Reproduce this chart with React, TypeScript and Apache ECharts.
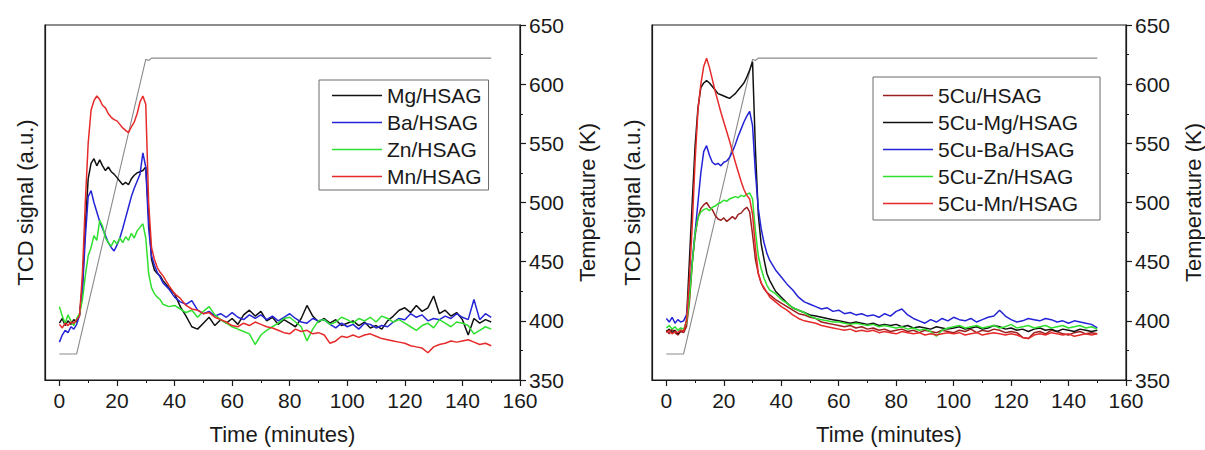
import React, { useEffect, useRef } from "react";
import * as echarts from "echarts";

// Time axis (minutes) shared by every TPR trace
const TIME = [
  0, 1, 2, 3, 4, 5, 6, 7, 8, 9, 10, 11, 12, 13, 14, 15, 16, 17, 18, 19, 20, 21, 22, 23, 24, 25, 26, 27, 28, 29, 30, 31, 32, 33, 34, 35, 36,
  38, 40, 42, 44, 46, 48, 50, 52, 54, 56, 58, 60, 62, 64, 66, 68, 70, 72, 74, 76, 78, 80, 82, 84, 86, 88, 90, 92, 94, 96, 98,
  100, 102, 104, 106, 108, 110, 112, 114, 116, 118, 120, 122, 124, 126, 128, 130, 132, 134, 136, 138, 140, 142, 144, 146, 148, 150,
];

// Temperature ramp (K)
const TEMP_T = [0, 6, 30, 31, 32, 150];
const TEMP_K = [372, 372, 621, 620, 622, 622];

// Tick labels of the time axis
const X_MAJOR = [0, 20, 40, 60, 80, 100, 120, 140, 160];
const X_MINOR = [10, 30, 50, 70, 90, 110, 130, 150];

// ---- Left panel: M/HSAG (TCD signal, a.u.) ----
const MG = [
  398, 402, 396, 400, 397, 401, 399, 405, 430, 480,
  520, 533, 537, 531, 536, 531, 527, 530, 526, 524,
  521, 518, 515, 517, 515, 520, 523, 525, 526, 527,
  530, 490, 452, 443, 440, 438, 434,
  428, 423, 412, 404, 395, 393, 398, 403, 396, 401,
  398, 402, 397, 405, 409, 404, 408, 400, 403, 397,
  401, 398, 395, 402, 413, 404, 399, 402, 398, 401,
  396, 398, 400, 396, 399, 394, 396, 393, 400, 404,
  409, 411, 407, 413, 408, 411, 421, 406, 409, 404,
  407, 401, 388, 402, 398, 401, 399,
];
const BA = [
  382, 388, 392, 390, 395, 393, 397, 405, 425, 470,
  505, 510, 500, 492, 484, 478, 472, 466, 462, 459,
  464, 470, 478, 487, 496, 505, 512, 518, 524, 542,
  530, 478, 455, 447, 441, 437, 432,
  427, 420, 416, 414, 417, 409, 406, 408, 404, 406,
  403, 407, 403, 401, 405, 402, 405, 401, 404, 400,
  403, 406, 402, 399, 398, 402, 400, 401, 397, 394,
  398, 395, 397, 393, 398, 397, 394, 396, 395, 399,
  402, 401, 406, 403, 405, 400, 402, 401, 404, 402,
  406, 403, 401, 418, 401, 406, 403,
];
const ZN = [
  412, 404, 398, 405, 400, 396, 402, 406, 418, 438,
  455, 462, 472, 468, 485, 480, 470, 466, 463, 468,
  465, 470, 466, 471, 468, 474, 470, 476, 479, 482,
  470, 440, 428, 423, 420, 418, 414,
  412, 413, 410, 407, 409, 403, 408, 412, 405, 401,
  398, 395, 393, 391, 389, 380, 388, 392, 395, 398,
  402, 403, 399, 395, 383, 393, 400, 401, 397, 399,
  403, 401, 398, 402, 400, 403, 399, 404, 402, 399,
  401, 398, 395, 392, 396, 398, 394, 401, 398, 395,
  399, 398, 396, 389, 392, 395, 393,
];
const MN = [
  397, 394, 398, 396, 399, 398, 401, 404, 440, 500,
  550, 578, 586, 590, 587, 582, 580, 575, 572, 570,
  569, 566, 563, 561, 559, 564, 568, 575, 585, 590,
  583, 500, 462, 452, 445, 441, 438,
  430, 423, 419, 413, 410, 409, 406, 407, 403, 401,
  399, 396, 395, 398, 396, 399, 397, 395, 394, 392,
  390, 389, 393, 391, 392, 389, 390, 388, 381, 383,
  387, 386, 388, 386, 388, 389, 387, 385, 384, 383,
  382, 381, 379, 378, 377, 373, 378, 380, 381, 383,
  382, 383, 384, 382, 380, 381, 379,
];

// ---- Right panel: 5Cu-M/HSAG ----
const CU = [
  392, 389, 393, 390, 388, 391, 390, 395, 415, 448,
  472, 487, 495, 498, 500, 496, 494, 489, 486, 485,
  487, 484, 486, 488, 486, 490, 491, 494, 496, 492,
  473, 452, 440, 432, 427, 424, 422,
  418, 415, 412, 409, 406, 405, 403, 402, 399, 398,
  397, 396, 395, 396, 394, 395, 393, 394, 392, 393,
  391, 392, 393, 391, 392, 390, 392, 391, 390, 392,
  391, 390, 392, 391, 393, 390, 392, 391, 393, 392,
  390, 391, 390, 386, 385, 390, 391, 389, 392, 391,
  389, 388, 390, 391, 389, 390, 389,
];
const CU_MG = [
  391, 393, 390, 392, 389, 392, 391, 400, 450, 500,
  548, 580, 597, 601, 603, 601, 598, 595, 592, 591,
  590, 589, 588, 590, 592, 595, 598, 601, 606, 612,
  619, 545, 490, 465, 452, 440, 434,
  425, 420, 415, 411, 409, 407, 405, 404, 403, 402,
  401, 400, 399, 398, 399, 398, 397, 398, 396, 397,
  396, 397, 395, 396, 394, 395, 394, 393, 395, 394,
  393, 394, 395, 393, 394, 395, 393, 394, 396, 395,
  393, 394, 392, 393, 391, 393, 394, 392, 393, 391,
  393, 392, 391, 393, 392, 391, 392,
];
const CU_BA = [
  402, 399, 403, 398, 401, 399, 400, 405, 425, 450,
  475, 500, 525, 543, 548, 540, 534, 532, 533, 531,
  534, 535, 538, 543, 549, 556, 562, 568, 573, 577,
  565, 525, 495, 478, 466, 457, 451,
  443, 437, 431, 426, 420, 416, 414, 412, 410, 411,
  408, 409, 406, 407, 405, 406, 404, 405, 403, 406,
  404, 408, 410, 405, 402, 400, 398, 401, 399, 402,
  400, 403, 401, 400, 402, 399, 401, 403, 404, 409,
  404, 401, 399, 400, 402, 401, 400, 402, 401, 399,
  400, 398, 400, 399, 398, 397, 394,
];
const CU_ZN = [
  394, 396, 393, 395, 392, 394, 393, 398, 418, 448,
  474, 487, 492, 494, 495, 493, 496, 497, 499, 500,
  502, 501, 503, 504, 505, 504, 506, 505, 507, 508,
  503, 476, 455, 444, 436, 430, 426,
  423, 418, 415, 411, 409, 407, 404, 402, 401, 400,
  399, 399, 398, 397, 398, 397, 396, 397, 395, 396,
  395, 394, 395, 393, 394, 392, 393, 391, 387, 392,
  394, 395, 396, 394, 395, 396, 394, 395, 396, 394,
  395, 397, 394, 395, 396, 394, 395, 396, 394, 395,
  396, 394, 395, 396, 394, 395, 393,
];
const CU_MN = [
  390, 392, 389, 391, 390, 392, 391, 400, 435, 480,
  535, 578, 600, 615, 622, 614, 604, 594, 585, 576,
  568, 560, 552, 543, 534, 526, 518, 511, 506, 503,
  490, 462, 440, 432, 428, 424, 420,
  416, 412, 409, 405, 402, 400, 399, 398, 396, 395,
  394, 393, 392, 393, 391, 392, 391, 392, 390, 391,
  390, 389, 391, 390, 389, 390, 388, 389, 388, 389,
  390, 389, 390, 388, 389, 390, 388, 389, 390, 389,
  388, 389, 388, 386, 385, 388, 389, 388, 390, 389,
  388, 389, 387, 388, 389, 388, 389,
];

const FONT = "'Liberation Sans', Arial, Helvetica, sans-serif";
const INK = "#1a1a1a";
const TICK_FS = 21;
const NAME_FS = 22;

const pairs = (xs: number[], ys: number[]) => xs.map((x, i) => [x, ys[i]]);

function xAxes(gridIndex: number) {
  return [
    {
      type: "value",
      gridIndex,
      min: -5,
      max: 160,
      position: "bottom",
      name: "Time (minutes)",
      nameLocation: "middle",
      nameGap: 43,
      nameTextStyle: { fontSize: NAME_FS, color: INK, fontFamily: FONT },
      axisLine: { show: true, onZero: false, lineStyle: { color: INK, width: 1.2 } },
      axisTick: { show: true, length: 6, customValues: X_MAJOR, lineStyle: { color: INK, width: 1.2 } },
      axisLabel: { customValues: X_MAJOR, fontSize: TICK_FS, color: INK, margin: 10, fontFamily: FONT },
      splitLine: { show: false },
    },
    {
      type: "value",
      gridIndex,
      min: -5,
      max: 160,
      position: "bottom",
      axisLine: { show: false, onZero: false },
      axisTick: { show: true, length: 3, customValues: X_MINOR, lineStyle: { color: INK, width: 1 } },
      axisLabel: { show: false },
      splitLine: { show: false },
    },
  ];
}

function yAxes(gridIndex: number, tempGap: number) {
  return [
    {
      type: "value",
      gridIndex,
      min: 350,
      max: 650,
      position: "left",
      name: "TCD signal (a.u.)",
      nameLocation: "middle",
      nameGap: 9,
      nameRotate: 90,
      nameTextStyle: { fontSize: NAME_FS, color: INK, fontFamily: FONT },
      axisLine: { show: true, onZero: false, lineStyle: { color: INK, width: 1.2 } },
      axisTick: { show: false },
      axisLabel: { show: false },
      splitLine: { show: false },
    },
    {
      type: "value",
      gridIndex,
      min: 350,
      max: 650,
      interval: 50,
      position: "right",
      name: "Temperature (K)",
      nameLocation: "middle",
      nameGap: tempGap,
      nameRotate: 90,
      nameTextStyle: { fontSize: NAME_FS, color: INK, fontFamily: FONT },
      axisLine: { show: true, onZero: false, lineStyle: { color: INK, width: 1.2 } },
      axisTick: { show: true, length: 6, lineStyle: { color: INK, width: 1.2 } },
      minorTick: { show: true, splitNumber: 2, length: 3, lineStyle: { color: INK, width: 1 } },
      axisLabel: { fontSize: TICK_FS, color: INK, margin: 9, fontFamily: FONT },
      splitLine: { show: false },
      minorSplitLine: { show: false },
    },
  ];
}

function line(name: string, color: string, ys: number[], xi: number, yi: number) {
  return {
    type: "line",
    name,
    xAxisIndex: xi,
    yAxisIndex: yi,
    data: pairs(TIME, ys),
    symbol: "none",
    showSymbol: false,
    color,
    lineStyle: { color, width: 1.5 },
    silent: true,
  };
}

function tempLine(xi: number, yi: number) {
  return {
    type: "line",
    name: "Temperature",
    xAxisIndex: xi,
    yAxisIndex: yi,
    data: pairs(TEMP_T, TEMP_K),
    symbol: "none",
    showSymbol: false,
    color: "#8a8a8a",
    lineStyle: { color: "#8a8a8a", width: 1.1 },
    silent: true,
    z: 1,
  };
}

const BLACK = "#111111";
const BLUE = "#2424d6";
const GREEN = "#2fe02f";
const RED = "#e62a2a";
const DARKRED = "#9a1f1f";

export default function App() {
  const ref = useRef<HTMLDivElement>(null);
  useEffect(() => {
    if (!ref.current) return;
    const chart = echarts.init(ref.current, null, { renderer: "svg" });
    const legendBase = {
      orient: "vertical",
      icon: "rect",
      itemWidth: 50,
      itemHeight: 1.6,
      itemGap: 6,
      borderColor: "#6a6a6a",
      borderWidth: 1,
      backgroundColor: "#fff",
      textStyle: { fontSize: TICK_FS, color: INK, fontFamily: FONT },
      selectedMode: false,
    };
    chart.setOption({
      animation: false,
      backgroundColor: "#ffffff",
      grid: [
        { left: 45, top: 25, width: 475, height: 359, show: true, borderColor: INK, borderWidth: 1.2, backgroundColor: "transparent" },
        { left: 652, top: 25, width: 476, height: 359, show: true, borderColor: INK, borderWidth: 1.2, backgroundColor: "transparent" },
      ],
      xAxis: [...xAxes(0), ...xAxes(1)],
      yAxis: [...yAxes(0, 56), ...yAxes(1, 56)],
      legend: [
        {
          ...legendBase,
          left: 319,
          top: 80,
          padding: [5, 7, 3, 13],
          data: ["Mg/HSAG", "Ba/HSAG", "Zn/HSAG", "Mn/HSAG"],
        },
        {
          ...legendBase,
          left: 873,
          top: 77,
          padding: [8, 22, 6, 10],
          data: ["5Cu/HSAG", "5Cu-Mg/HSAG", "5Cu-Ba/HSAG", "5Cu-Zn/HSAG", "5Cu-Mn/HSAG"],
        },
      ],
      series: [
        tempLine(0, 1),
        line("Mg/HSAG", BLACK, MG, 0, 0),
        line("Ba/HSAG", BLUE, BA, 0, 0),
        line("Zn/HSAG", GREEN, ZN, 0, 0),
        line("Mn/HSAG", RED, MN, 0, 0),
        tempLine(2, 3),
        line("5Cu/HSAG", DARKRED, CU, 2, 2),
        line("5Cu-Mg/HSAG", BLACK, CU_MG, 2, 2),
        line("5Cu-Ba/HSAG", BLUE, CU_BA, 2, 2),
        line("5Cu-Zn/HSAG", GREEN, CU_ZN, 2, 2),
        line("5Cu-Mn/HSAG", RED, CU_MN, 2, 2),
      ],
    });
    return () => chart.dispose();
  }, []);
  return (
    <div
      ref={ref}
      style={{ position: "fixed", left: 0, top: 0, width: 1205, height: 450, background: "#fff" }}
    />
  );
}
